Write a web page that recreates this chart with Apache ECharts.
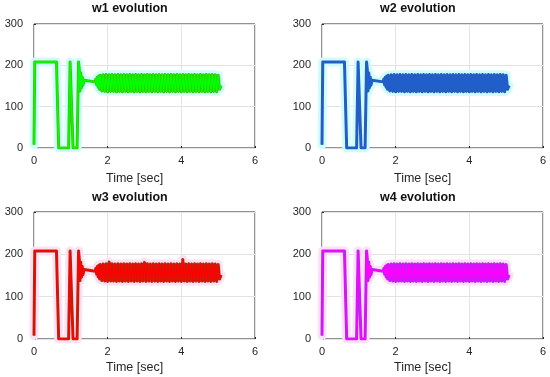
<!DOCTYPE html>
<html>
<head>
<meta charset="utf-8">
<script src="https://cdn.jsdelivr.net/npm/echarts@6/dist/echarts.min.js"></script>
<style>html,body{margin:0;padding:0;background:#fff;}#c{width:550px;height:377px;}</style>
</head>
<body>
<div id="c"></div>
<script>
// Time stamps [sec]
const timeSec = [
 0, 0.02, 0.61, 0.67, 0.94, 0.98, 1.01, 1.06, 1.17, 1.21,
 1.23, 1.25, 1.27, 1.29, 1.31, 1.33, 1.36, 1.40, 1.66, 1.68,
 1.70, 1.72, 1.74, 1.76, 1.78, 1.80,
 1.84,1.88,1.92,1.96,2.00,2.04,2.08,2.12,2.16,2.20,
 2.24,2.28,2.32,2.36,2.40,2.44,2.48,2.52,2.56,2.60,
 2.64,2.68,2.72,2.76,2.80,2.84,2.88,2.92,2.96,3.00,
 3.04,3.08,3.12,3.16,3.20,3.24,3.28,3.32,3.36,3.40,
 3.44,3.48,3.52,3.56,3.60,3.64,3.68,3.72,3.76,3.80,
 3.84,3.88,3.92,3.96,4.00,4.04,4.08,4.12,4.16,4.20,
 4.24,4.28,4.32,4.36,4.40,4.44,4.48,4.52,4.56,4.60,
 4.64,4.68,4.72,4.76,4.80,4.84,4.88,4.92,4.96,5.00,
 5.04, 5.08];

const w1 = [
 8, 208, 208, 0, 0, 208, 208, 0, 0, 208,
 190, 138, 182, 146, 172, 152, 164, 160, 160, 167,
 153, 171, 147, 174, 142, 176,
 138,177,137,178,136,177,137,178,137,177,
 136,178,137,177,136,178,137,177,136,178,
 137,177,136,178,137,177,136,178,137,177,
 136,178,137,177,136,178,137,177,136,178,
 137,177,136,178,137,177,136,178,137,177,
 136,178,137,177,136,178,137,177,136,178,
 137,177,136,178,137,177,136,178,137,177,
 136,178,137,177,136,178,137,177,136,176,
 142, 151];

const w2 = [
 8, 208, 208, 0, 0, 208, 208, 0, 0, 208,
 190, 138, 182, 146, 172, 152, 164, 160, 160, 167,
 153, 171, 147, 174, 142, 176,
 138,177,137,178,136,177,137,178,137,177,
 136,178,137,177,136,178,137,177,136,178,
 137,177,136,178,137,177,136,178,137,177,
 136,178,137,177,136,178,137,177,136,178,
 137,177,136,178,137,177,136,178,137,177,
 136,178,137,177,136,178,137,177,136,178,
 137,177,136,178,137,177,136,178,137,177,
 136,178,137,177,136,178,137,177,136,176,
 142, 151];

const w3 = [
 8, 208, 208, 0, 0, 208, 208, 0, 0, 208,
 190, 138, 182, 146, 172, 152, 164, 160, 160, 167,
 153, 171, 147, 174, 142, 176,
 138,177,137,178,136,182,137,178,137,177,
 136,178,137,177,136,178,137,177,136,178,
 137,177,136,178,137,177,136,178,137,181,
 136,178,137,177,136,178,137,177,136,178,
 137,177,136,178,137,177,136,178,137,177,
 136,178,137,177,136,188,137,177,136,178,
 137,177,136,178,137,177,136,178,137,177,
 136,178,137,177,136,178,137,177,136,176,
 142, 151];

const w4 = [
 8, 208, 208, 0, 0, 208, 208, 0, 0, 208,
 190, 138, 182, 146, 172, 152, 164, 160, 160, 167,
 153, 171, 147, 174, 142, 176,
 138,177,137,178,136,177,137,178,137,177,
 136,178,137,177,136,178,137,177,136,178,
 137,177,136,178,137,177,136,178,137,177,
 136,178,137,177,136,178,137,177,136,178,
 137,177,136,178,137,177,136,178,137,177,
 136,178,137,177,136,178,137,177,136,178,
 137,177,136,178,137,177,136,178,137,177,
 136,178,137,177,136,178,137,177,136,176,
 142, 151];

const titles = ['w1 evolution', 'w2 evolution', 'w3 evolution', 'w4 evolution'];
const xLabel = 'Time [sec]';
const xTicks = [0, 2, 4, 6];
const yTicks = [0, 100, 200, 300];

const panels = [
  {vals: w1, edge: '#3cc400', core: '#00ff00', halo: '#cffcfc', left: 34, top: 24, height: 124, tx: 132, ty: 9, lx: 135, ly: 179},
  {vals: w2, edge: '#2a5cbe', core: '#1f5fcc', halo: '#cffcfc', left: 322, top: 24, height: 124, tx: 420, ty: 9, lx: 423, ly: 179},
  {vals: w3, edge: '#a8300c', core: '#ff0000', halo: '#fde0f4', left: 34, top: 212, height: 127, tx: 132, ty: 198, lx: 135, ly: 368},
  {vals: w4, edge: '#a030f0', core: '#ff00ff', halo: '#fde0f8', left: 322, top: 212, height: 127, tx: 420, ty: 198, lx: 423, ly: 368}
];

const font = 'Liberation Sans, Arial, Helvetica, sans-serif';
const grid = [], xAxis = [], yAxis = [], series = [], graphic = [];
panels.forEach((p, i) => {
  grid.push({left: p.left, top: p.top, width: 221, height: p.height, show: true, borderColor: '#262626', borderWidth: 1, backgroundColor: '#fff', containLabel: false});
  xAxis.push({type: 'value', gridIndex: i, min: xTicks[0], max: xTicks[xTicks.length-1], interval: 2,
    axisLine: {show: false}, axisTick: {show: true, inside: true, length: 2, lineStyle: {color: '#262626'}},
    axisLabel: {color: '#262626', fontSize: 11, fontFamily: font, margin: 7},
    splitLine: {show: true, lineStyle: {color: '#e3e3e3', width: 1}}});
  yAxis.push({type: 'value', gridIndex: i, min: yTicks[0], max: yTicks[yTicks.length-1], interval: 100,
    axisLine: {show: false}, axisTick: {show: true, inside: true, length: 2, lineStyle: {color: '#262626'}},
    axisLabel: {color: '#262626', fontSize: 11, fontFamily: font, margin: 11},
    splitLine: {show: true, lineStyle: {color: '#e3e3e3', width: 1}}});
  const data = timeSec.map((t, k) => [t, p.vals[k]]);
  series.push({type: 'line', xAxisIndex: i, yAxisIndex: i, data, showSymbol: false, animation: false, z: 1,
    lineStyle: {color: p.halo, width: 9, join: 'round', cap: 'round'}, silent: true});
  series.push({type: 'line', xAxisIndex: i, yAxisIndex: i, data, showSymbol: false, animation: false, z: 2,
    lineStyle: {color: p.edge, width: 3, join: 'round'}});
  series.push({type: 'line', xAxisIndex: i, yAxisIndex: i, data, showSymbol: false, animation: false, z: 3,
    lineStyle: {color: p.core, width: 1.4, join: 'round'}});
  graphic.push({type: 'text', left: p.tx - 40, top: p.ty - 7, style: {text: titles[i], font: 'bold 12.5px ' + font, fill: '#111'}});
  graphic.push({type: 'text', left: p.lx - 29, top: p.ly - 7, style: {text: xLabel, font: '12.5px ' + font, fill: '#262626'}});
});

const chart = echarts.init(document.getElementById('c'), null, {renderer: 'canvas'});
chart.setOption({animation: false, grid, xAxis, yAxis, series, graphic});
</script>
</body>
</html>
